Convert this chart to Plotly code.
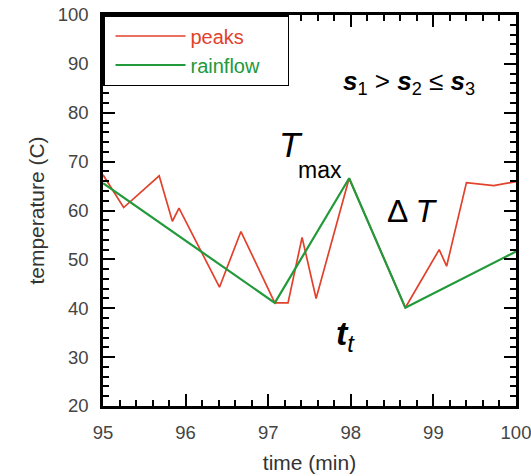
import plotly.graph_objects as go

# peaks series
peaks_time = [95.0, 95.25, 95.68, 95.84, 95.92, 96.41, 96.67, 97.08, 97.24, 97.41,
              97.58, 97.98, 98.66, 99.07, 99.16, 99.40, 99.73, 100.0]
peaks_temp = [67.3, 60.6, 67.1, 57.8, 60.5, 44.3, 55.7, 41.1, 41.1, 54.5,
              42.0, 66.6, 40.1, 52.0, 48.6, 65.7, 65.1, 65.9]

# rainflow series
rain_time = [95.0, 97.08, 97.98, 98.66, 100.0]
rain_temp = [65.6, 41.1, 66.6, 40.1, 51.6]

x_ticks = [95, 96, 97, 98, 99, 100]
y_ticks = [20, 30, 40, 50, 60, 70, 80, 90, 100]

RED = "#e2412b"
GREEN = "#22993a"
FONT = "Liberation Sans, Arial, Helvetica, sans-serif"
PAD = "\u00a0" * 4

fig = go.Figure()
fig.add_trace(go.Scatter(x=peaks_time, y=peaks_temp, mode="lines",
                         name=f'<span style="color:{RED}">peaks</span>{PAD}',
                         line=dict(color=RED, width=1.7)))
fig.add_trace(go.Scatter(x=rain_time, y=rain_temp, mode="lines",
                         name=f'<span style="color:{GREEN}">rainflow</span>{PAD}',
                         line=dict(color=GREEN, width=2.2)))

axis_common = dict(showline=True, linecolor="black", linewidth=2.5, mirror="allticks",
                   ticks="inside", ticklen=12, tickwidth=2, tickcolor="black",
                   showgrid=False, zeroline=False, automargin=False,
                   ticklabeloverflow="allow", ticklabelstandoff=8,
                   tickfont=dict(family=FONT, size=18.5, color="#444444"))

fig.update_xaxes(range=[95, 100], tickvals=x_ticks,
                 minor=dict(dtick=0.2, ticks="inside", ticklen=6, tickwidth=2, tickcolor="black"),
                 title=dict(text="time (min)", font=dict(family=FONT, size=21, color="#333333"), standoff=14),
                 **axis_common)
fig.update_yaxes(range=[20, 100], tickvals=y_ticks,
                 minor=dict(dtick=2, ticks="inside", ticklen=6, tickwidth=2, tickcolor="black"),
                 title=dict(text="temperature (C)", font=dict(family=FONT, size=21, color="#333333"), standoff=8),
                 **axis_common)

fig.add_annotation(x=98.70, y=86.1, xref="x", yref="y", showarrow=False,
                   text="<b><i>s</i></b><sub>1</sub> > <b><i>s</i></b><sub>2</sub> ≤ <b><i>s</i></b><sub>3</sub>",
                   font=dict(family=FONT, size=26, color="black"))
fig.add_annotation(x=97.276, y=73.6, xref="x", yref="y", showarrow=False,
                   text="<i>T</i>",
                   font=dict(family=FONT, size=35, color="black"))
fig.add_annotation(x=97.63, y=68.3, xref="x", yref="y", showarrow=False,
                   text="max",
                   font=dict(family=FONT, size=23, color="black"))
fig.add_annotation(x=98.75, y=59.9, xref="x", yref="y", showarrow=False,
                   text="Δ <i>T</i>",
                   font=dict(family=FONT, size=32, color="black"))
fig.add_annotation(x=97.93, y=34.5, xref="x", yref="y", showarrow=False,
                   text="<b><i>t</i></b><sub><i>t</i></sub>",
                   font=dict(family=FONT, size=34, color="black"))

fig.update_layout(
    width=531, height=476,
    margin=dict(l=103, r=15, t=15, b=70),
    paper_bgcolor="white", plot_bgcolor="white",
    showlegend=True,
    legend=dict(x=0, y=1, xanchor="left", yanchor="top", xref="paper", yref="paper",
                bgcolor="white", bordercolor="black", borderwidth=1.5,
                font=dict(family=FONT, size=20), itemwidth=70, indentation=6),
)

fig.write_html("out.html")
